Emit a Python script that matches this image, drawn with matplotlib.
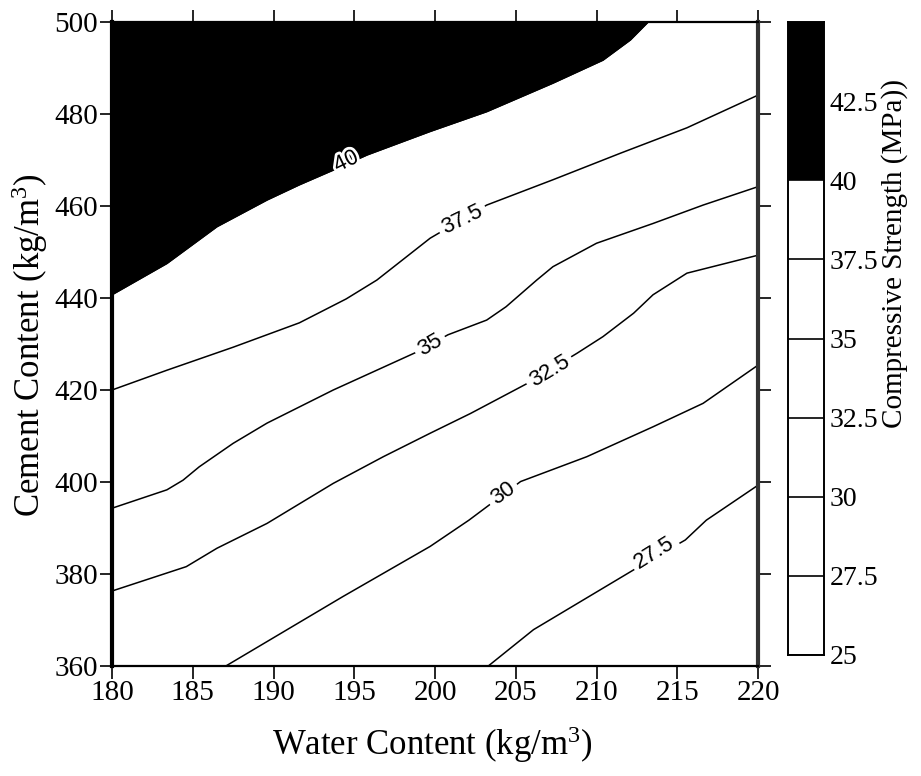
import matplotlib
matplotlib.use("Agg")
import matplotlib.pyplot as plt
import matplotlib.patheffects as pe

plt.rcParams["font.family"] = ["Liberation Serif", "DejaVu Serif"]
plt.rcParams["mathtext.fontset"] = "custom"
plt.rcParams["mathtext.rm"] = "Liberation Serif"
plt.rcParams["mathtext.it"] = "Liberation Serif:italic"

# Iso-strength contours: water content (kg/m3) vs cement content (kg/m3)
w_40 = [180.0, 183.4, 186.5, 189.6, 191.6, 193.7, 195.8, 199.7, 203.2, 207.3, 210.4, 212.1, 213.2]
c_40 = [440.7, 447.5, 455.5, 461.3, 464.6, 467.8, 471.1, 476.2, 480.5, 486.7, 491.7, 496.1, 500.0]

w_375 = [180.0, 183.4, 187.5, 191.6, 194.5, 196.4, 199.7, 203.2, 207.3, 211.5, 215.6, 220.0]
c_375 = [420.0, 424.3, 429.3, 434.6, 439.8, 443.9, 453.0, 460.2, 465.7, 471.5, 477.0, 484.1]

w_35 = [180.0, 183.4, 184.4, 185.4, 187.5, 189.6, 193.7, 198.9, 200.8, 203.2, 204.4, 206.3,
        207.3, 210.0, 213.5, 216.6, 220.0]
c_35 = [394.3, 398.3, 400.4, 403.3, 408.4, 412.8, 420.0, 428.3, 432.0, 435.2, 438.1, 443.9,
        446.8, 451.9, 456.2, 460.2, 464.2]

w_325 = [180.0, 184.6, 186.5, 189.6, 193.7, 196.8, 199.7, 202.2, 205.7, 208.8, 210.4, 212.3,
         213.5, 215.6, 220.0]
c_325 = [376.3, 381.6, 385.6, 391.0, 399.7, 405.5, 410.6, 414.9, 421.4, 428.0, 431.6, 436.7,
         440.7, 445.4, 449.3]

w_30 = [187.05, 194.3, 199.7, 202.1, 205.3, 209.4, 213.5, 216.6, 220.0]
c_30 = [360.0, 375.1, 386.0, 391.7, 400.1, 405.5, 412.0, 417.1, 425.4]

w_275 = [203.3, 206.1, 212.3, 215.5, 216.8, 220.0]
c_275 = [360.0, 367.9, 380.9, 387.4, 391.7, 399.3]

contour_labels = ["40", "37.5", "35", "32.5", "30", "27.5"]
label_w = [194.5, 201.7, 199.7, 207.1, 204.2, 213.6]
label_c = [469.6, 457.0, 429.8, 424.0, 397.5, 384.6]
label_rot = [26, 26, 30, 31, 35, 32]

# Colour scale bands (MPa)
band_edges = [25.0, 27.5, 30.0, 32.5, 35.0, 37.5, 40.0, 45.0]
band_colors = ["white", "white", "white", "white", "white", "white", "black"]
cbar_ticks = [25, 27.5, 30, 32.5, 35, 37.5, 40, 42.5]
cbar_ticklabels = ["25", "27.5", "30", "32.5", "35", "37.5", "40", "42.5"]

x_ticks = [180, 185, 190, 195, 200, 205, 210, 215, 220]
y_ticks = [360, 380, 400, 420, 440, 460, 480, 500]

fig = plt.figure(figsize=(9.21, 7.76), dpi=100)
ax = fig.add_axes([112 / 921, 1 - 666 / 776, 646 / 921, 644 / 776])

# region above 40 MPa
ax.fill_between(w_40, c_40, 500, color="black", lw=0, zorder=1)

lines = [(w_40, c_40), (w_375, c_375), (w_35, c_35), (w_325, c_325), (w_30, c_30), (w_275, c_275)]
for (wx, cy) in lines:
    ax.plot(wx, cy, color="black", lw=1.1, zorder=2, solid_joinstyle="round")

for i, txt in enumerate(contour_labels):
    kw = dict(rotation=label_rot[i], ha="center", va="center", fontsize=16,
              family=["Liberation Sans"], color="black", zorder=4)
    if i == 0:
        ax.text(label_w[i], label_c[i], txt,
                path_effects=[pe.withStroke(linewidth=4, foreground="white")], **kw)
    else:
        ax.text(label_w[i], label_c[i], txt,
                bbox=dict(boxstyle="square,pad=0.2", fc="white", ec="none"), **kw)

ax.set_xlim(180, 220)
ax.set_ylim(360, 500)
ax.set_xticks(x_ticks)
ax.set_yticks(y_ticks)
ax.set_xticklabels([str(v) for v in x_ticks])
ax.set_yticklabels([str(v) for v in y_ticks])
ax.tick_params(direction="out", length=9, width=1.2, labelsize=21, pad=1,
               top=True, right=True, labeltop=False, labelright=False)
for side in ["top", "bottom"]:
    ax.spines[side].set_linewidth(1.6)
ax.spines["left"].set_linewidth(3.0)
ax.spines["right"].set_linewidth(3.0)
ax.spines["right"].set_color("#333333")

fig.text(432 / 921, 1 - 745 / 776, "Water Content (kg/m$^3$)", ha="center", va="center", fontsize=25)
fig.text(30 / 921, 1 - 345 / 776, "Cement Content (kg/m$^3$)", ha="center", va="center",
         rotation=90, fontsize=25)

# colour bar
cax = fig.add_axes([788 / 921, 1 - 655 / 776, 36 / 921, 633 / 776])
for lo, hi, col in zip(band_edges[:-1], band_edges[1:], band_colors):
    cax.fill_between([0, 1], lo, hi, color=col, lw=0)
    cax.plot([0, 1], [lo, lo], color="black", lw=1.2)
cax.set_xlim(0, 1)
cax.set_ylim(band_edges[0], band_edges[-1])
cax.set_xticks([])
cax.yaxis.tick_right()
cax.set_yticks(cbar_ticks)
cax.set_yticklabels(cbar_ticklabels)
cax.tick_params(axis="y", length=0, labelsize=20, pad=4)
for s in cax.spines.values():
    s.set_linewidth(1.4)

fig.text(895 / 921, 1 - 253 / 776, "Compressive Strength (MPa))", ha="center", va="center",
         rotation=90, fontsize=21)

fig.savefig("out.png", dpi=100)
